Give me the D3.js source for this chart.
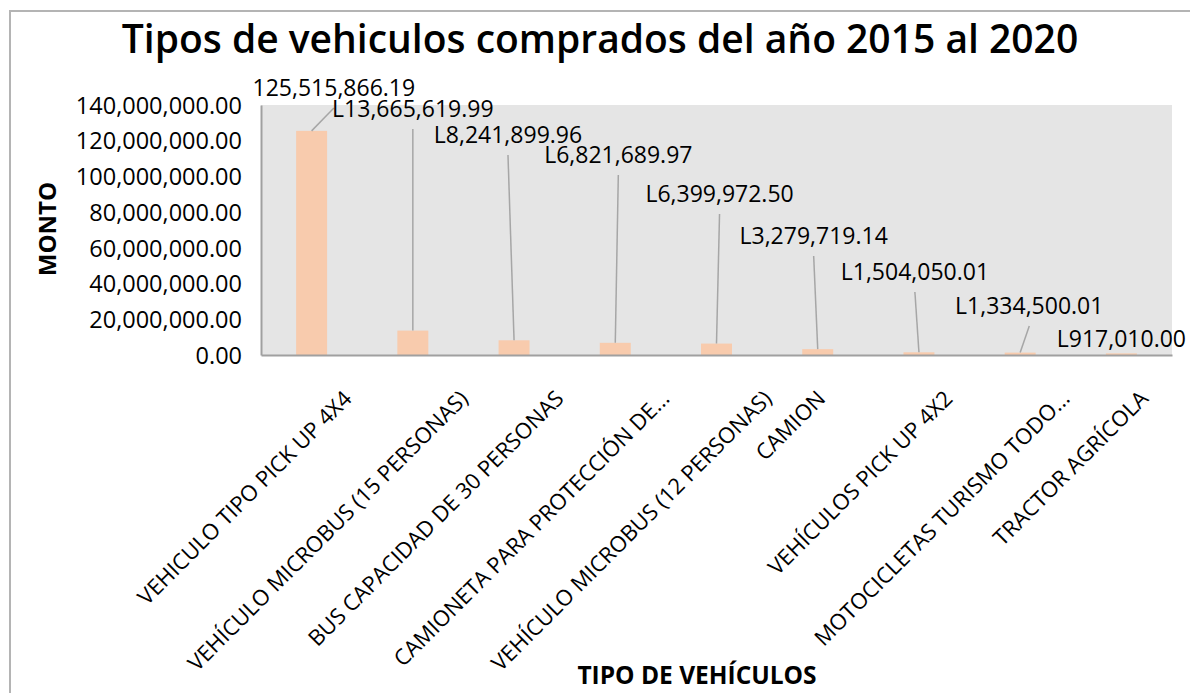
<!DOCTYPE html>
<html>
<head>
<meta charset="utf-8">
<script src="https://cdn.jsdelivr.net/npm/d3@7"></script>
<style>
  body { margin: 0; background: #fff; }
  svg text { font-family: "Open Sans", "Noto Sans", sans-serif; fill: #000; }
</style>
</head>
<body>
<svg id="chart" width="1190" height="693"></svg>
<script>
// data
const categories = [
    "VEHICULO TIPO PICK UP 4X4",
    "VEHÍCULO MICROBUS (15 PERSONAS)",
    "BUS CAPACIDAD DE 30 PERSONAS",
    "CAMIONETA PARA PROTECCIÓN DE...",
    "VEHÍCULO MICROBUS (12 PERSONAS)",
    "CAMION",
    "VEHÍCULOS PICK UP 4X2",
    "MOTOCICLETAS TURISMO TODO...",
    "TRACTOR AGRÍCOLA"
];
const amounts = [125515866.19, 13665619.99, 8241899.96, 6821689.97, 6399972.50,
                 3279719.14, 1504050.01, 1334500.01, 917010.00];
const labelPrefix = ["", "L", "L", "L", "L", "L", "L", "L", "L"];
const yTicks = [0, 20e6, 40e6, 60e6, 80e6, 100e6, 120e6, 140e6];

// where the (hand placed) data labels sit, in axis units and band fractions
const labelLevel = [145e6, 133.3e6, 118.7e6, 107.5e6, 85.7e6, 62.2e6, 42e6, 23e6, 4.5e6];
const labelShift = [0.22, 0, -0.06, 0.03, 0.03, -0.04, -0.04, 0.09, 0];

const svg = d3.select("#chart");
const plot = {left: 261, right: 1172, top: 105, bottom: 355};

// outer frame (cut by the picture edge)
svg.append("path")
    .attr("d", "M10,700 L10,11 L1200,11")
    .attr("fill", "none")
    .attr("stroke", "#b4b4b4")
    .attr("stroke-width", 2);

svg.append("text")
    .attr("x", 600)
    .attr("y", 53)
    .attr("text-anchor", "middle")
    .style("font-size", "39px")
    .style("font-weight", 600)
    .text("Tipos de vehiculos comprados del año 2015 al 2020");

const x = d3.scaleBand()
    .domain(categories)
    .range([plot.left, plot.right])
    .paddingInner(0.694)
    .paddingOuter(0.347);

const y = d3.scaleLinear()
    .domain([0, 140e6])
    .range([plot.bottom, plot.top]);

svg.append("rect")
    .attr("x", plot.left)
    .attr("y", plot.top)
    .attr("width", plot.right - plot.left)
    .attr("height", plot.bottom - plot.top)
    .attr("fill", "#e5e5e5");

svg.selectAll(".bar")
    .data(amounts)
    .enter().append("rect")
    .attr("class", "bar")
    .attr("x", (d, i) => x(categories[i]))
    .attr("y", d => y(d))
    .attr("width", x.bandwidth())
    .attr("height", d => y(0) - y(d))
    .attr("fill", "#f8cbad");

// axes
const yAxis = d3.axisLeft(y).tickValues(yTicks).tickFormat(d3.format(",.2f")).tickSize(0).tickPadding(19);
const gy = svg.append("g")
    .attr("transform", "translate(" + plot.left + ",0)")
    .call(yAxis);
gy.select(".domain").attr("stroke", "#a0a0a0").attr("stroke-width", 2);
gy.selectAll("text")
    .style("font-size", "23.5px")
    .attr("dy", "0.35em");

const xAxis = d3.axisBottom(x).tickSize(0).tickFormat("");
const gx = svg.append("g")
    .attr("transform", "translate(0," + plot.bottom + ")")
    .call(xAxis);
gx.select(".domain").attr("stroke", "#a0a0a0").attr("stroke-width", 2);

// rotated category labels
svg.selectAll(".cat")
    .data(categories)
    .enter().append("text")
    .attr("class", "cat")
    .attr("text-anchor", "end")
    .style("font-size", "22px")
    .text(d => d)
    .attr("transform", function(d) {
        const len = this.getComputedTextLength();
        const cx = x(d) + x.bandwidth() / 2 + 0.16 * len - 5;
        return "translate(" + cx + ",400) rotate(-45)";
    });

// data labels with leader lines
const fmt = d3.format(",.2f");
const lab = svg.append("g");
amounts.forEach((v, i) => {
    const cx = x(categories[i]) + x.bandwidth() / 2;
    const lx = cx + labelShift[i] * x.step();
    const ly = y(labelLevel[i]);
    if (y(v) - (ly + 12) > 10) {
        lab.append("line")
            .attr("x1", lx).attr("y1", ly + 12)
            .attr("x2", cx).attr("y2", y(v))
            .attr("stroke", "#a6a6a6")
            .attr("stroke-width", 1.5);
    }
    lab.append("text")
        .attr("x", lx)
        .attr("y", ly)
        .attr("text-anchor", "middle")
        .style("font-size", "23px")
        .text(labelPrefix[i] + fmt(v));
});

// axis titles
svg.append("text")
    .attr("transform", "translate(56,229) rotate(-90)")
    .attr("text-anchor", "middle")
    .style("font-size", "24px")
    .style("font-weight", 700)
    .text("MONTO");

svg.append("text")
    .attr("x", 697)
    .attr("y", 684)
    .attr("text-anchor", "middle")
    .style("font-size", "24.5px")
    .style("font-weight", 700)
    .text("TIPO DE VEHÍCULOS");
</script>
</body>
</html>
